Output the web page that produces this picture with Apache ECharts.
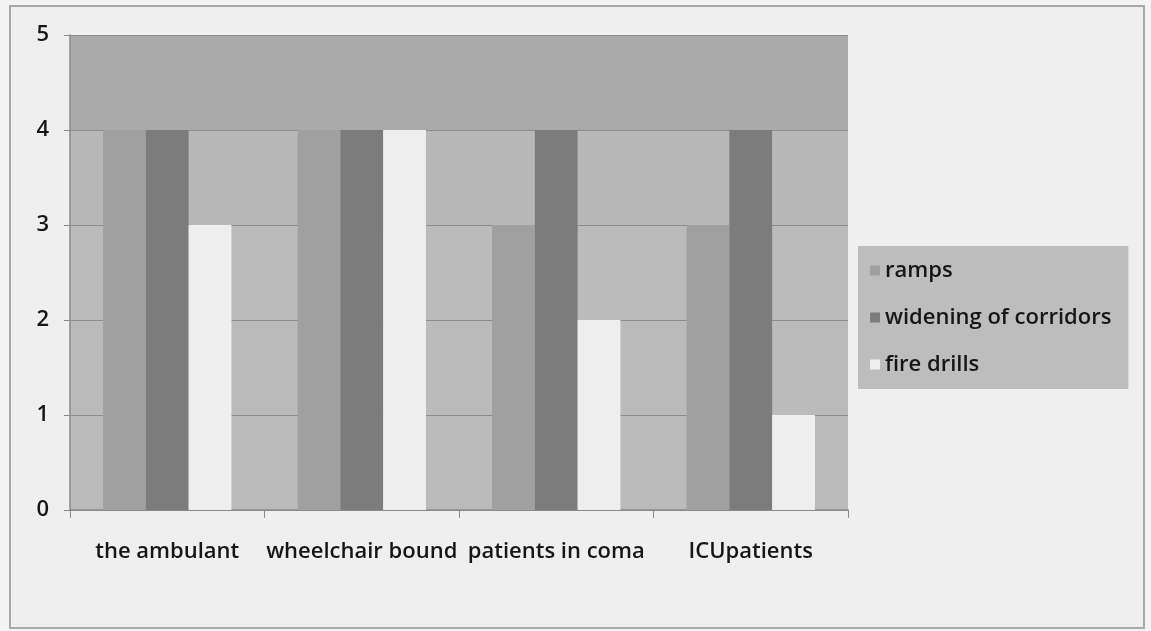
<!DOCTYPE html>
<html><head><meta charset="utf-8">
<script src="https://cdn.jsdelivr.net/npm/echarts@6/dist/echarts.min.js"></script>
<style>
html,body{margin:0;padding:0;background:#f4f4f4;}
#frame{position:absolute;left:9px;top:5px;width:1132px;height:620px;border:2px solid #a8a8a8;background:#efefef;}
#c{position:absolute;left:0;top:0;width:1151px;height:631px;}
</style></head>
<body>
<div id="frame"></div>
<div id="c"></div>
<script>
const categories = ['the ambulant', 'wheelchair bound', 'patients in coma', 'ICUpatients'];
const seriesNames = ['ramps', 'widening of corridors', 'fire drills'];
const ramps = [4, 4, 3, 3];
const widening = [4, 4, 4, 4];
const fireDrills = [3, 4, 2, 1];
const yTicks = [0, 1, 2, 3, 4, 5];

const colors = ['#a0a0a0', '#7c7c7c', '#eeeeee'];
const font = '"Open Sans", Lato, sans-serif';
const chart = echarts.init(document.getElementById('c'));
const values = [ramps, widening, fireDrills];
chart.setOption({
  animation: false,
  color: colors,
  grid: { left: 70, right: 303, top: 35, bottom: 121, containLabel: false },
  legend: {
    orient: 'vertical', left: 858, top: 246,
    backgroundColor: '#bdbdbd', padding: [12, 17, 12, 12],
    itemWidth: 10, itemHeight: 10, itemGap: 22,
    icon: 'rect',
    textStyle: { fontFamily: font, fontSize: 22, fontWeight: 600, color: '#161616', lineHeight: 25 },
    data: seriesNames
  },
  xAxis: {
    type: 'category', data: categories,
    axisLine: { lineStyle: { color: '#8a8a8a', width: 1.5 } },
    axisTick: { show: true, length: 8, lineStyle: { color: '#8a8a8a' } },
    axisLabel: { fontFamily: font, fontSize: 22, fontWeight: 600, color: '#161616', margin: 31, interval: 0 },
    splitLine: { show: false }
  },
  yAxis: {
    type: 'value', min: 0, max: 5, interval: 1,
    axisLine: { show: true, lineStyle: { color: '#8a8a8a', width: 1.5 } },
    axisTick: { show: true, length: 6, lineStyle: { color: '#8a8a8a' } },
    axisLabel: { fontFamily: font, fontSize: 22, fontWeight: 600, color: '#161616', margin: 21,
      formatter: v => yTicks.includes(v) ? String(v) : '' },
    splitLine: { show: true, lineStyle: { color: '#8c8c8c', width: 1 } },
    splitArea: { show: true, areaStyle: { color: ['#bbbbbb', '#bbbbbb', '#bbbbbb', '#b8b8b8', '#aaaaaa'] } }
  },
  series: seriesNames.map((n, i) => ({
    name: n, type: 'bar', data: values[i],
    barGap: '0%', barCategoryGap: '34%',
    itemStyle: { color: colors[i] }
  }))
});
</script>
</body></html>
